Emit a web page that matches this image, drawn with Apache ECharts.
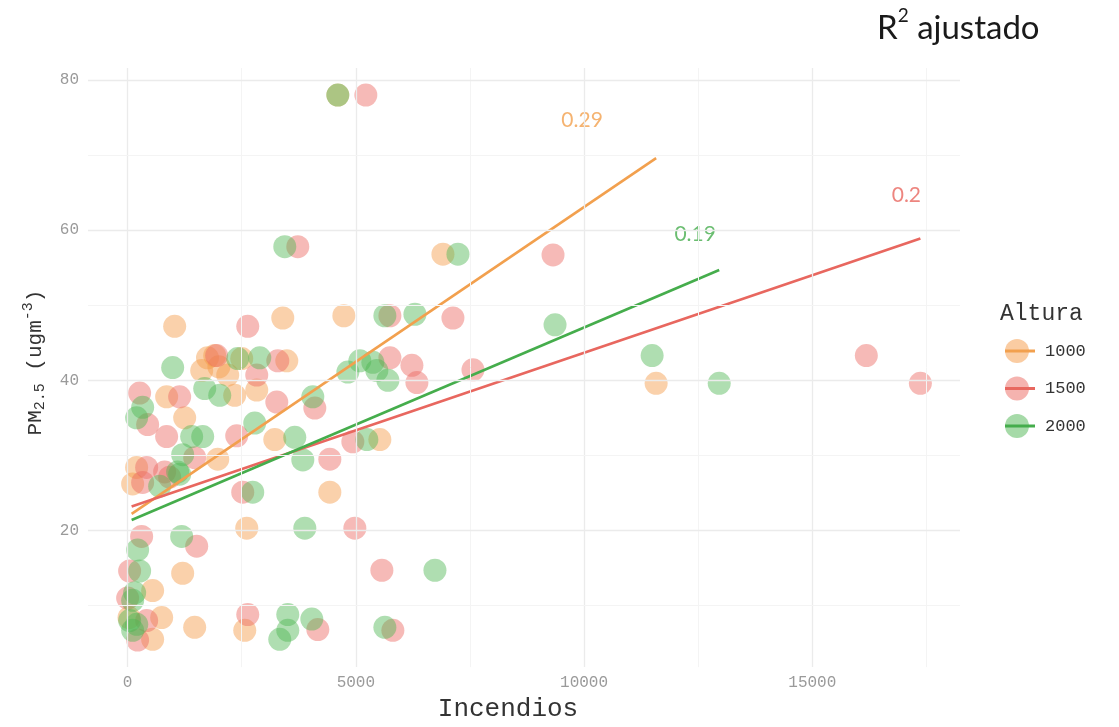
<!DOCTYPE html>
<html><head><meta charset="utf-8">
<script src="https://cdn.jsdelivr.net/npm/echarts@6/dist/echarts.min.js"></script>
<style>html,body{margin:0;padding:0;background:#fff}#c{width:1119px;height:727px}</style>
</head><body><div id="c"></div>
<script>
// ---------- data ----------
const groups = ['1000', '1500', '2000'];
const colors = ['#F59A45', '#EC6760', '#4DB552'];
const lineColors = ['#F2A04E', '#E8675F', '#45AD4C'];

// Incendios (x), PM2.5 (y)
const pts1000 = [
  [4605,78.0],[6908,56.8],[1031,47.2],[3399,48.3],[4737,48.6],
  [1750,43.0],[1908,43.3],[1623,41.3],[2500,42.9],[3487,42.6],[2000,41.8],[2193,40.7],
  [2829,38.7],[2346,38.0],[855,37.8],[1250,35.0],[3224,32.1],[5526,32.1],
  [1974,29.5],[197,28.4],[110,26.2],[4430,25.1],[2610,20.3],[1206,14.3],
  [548,12.0],[746,8.4],[548,5.5],[1469,7.1],[2566,6.7],[30,8.4],[11579,39.6]
];
const pts1500 = [
  [5219,78.0],[3728,57.8],[9320,56.7],[2632,47.2],[5746,48.6],[7127,48.3],
  [1950,43.3],[2829,40.7],[3290,42.6],[5746,43.0],[6228,42.0],[6338,39.7],[7566,41.4],
  [3268,37.1],[4101,36.3],[263,38.3],[1140,37.8],[439,34.1],[855,32.5],[2390,32.6],
  [4934,31.8],[4430,29.5],[1469,29.7],[417,28.4],[811,27.8],[329,26.4],[921,27.1],
  [2522,25.1],[4978,20.3],[5570,14.7],[307,19.2],[1513,17.9],[44,14.6],[0,11.0],
  [417,8.0],[219,5.4],[2632,8.8],[4167,6.8],[5811,6.7],[16184,43.3],[17368,39.6]
];
const pts2000 = [
  [4605,78.0],[3443,57.8],[7237,56.8],[5636,48.6],[6294,48.8],[9364,47.4],
  [987,41.7],[2412,42.9],[2895,43.0],[1689,38.9],[2018,38.0],[4057,37.8],
  [4825,41.1],[5088,42.6],[5373,42.4],[5460,41.3],[5702,40.0],
  [329,36.4],[197,35.0],[1403,32.5],[1645,32.5],[2785,34.3],[3662,32.4],[5241,32.1],[3838,29.4],
  [1206,30.1],[1140,27.5],[702,25.9],[1096,27.8],[2741,25.1],[3882,20.3],[6733,14.7],
  [219,17.4],[1184,19.2],[263,14.6],[154,11.7],[110,10.7],[44,8.0],[110,6.7],[200,7.5],
  [3509,8.8],[3333,5.5],[3509,6.7],[4035,8.2],[5636,7.1],[11491,43.3],[12961,39.6]
];
const points = [pts1000, pts1500, pts2000];

// fitted line end points
const trend1000 = [[88,22.2],[11579,69.6]];
const trend1500 = [[88,23.2],[17368,58.9]];
const trend2000 = [[88,21.4],[12961,54.7]];
const trends = [trend1000, trend1500, trend2000];

// adjusted R2 labels and their anchors (data space)
const r2Values = ['0.29', '0.2', '0.19'];
const r2Anchors = [[9956,74.6],[17061,64.7],[12434,59.5]];

const xMajor = [0, 5000, 10000, 15000];
const xMinor = [2500, 7500, 12500, 17500];
const yMajor = [20, 40, 60, 80];
const yMinor = [10, 30, 50, 70];

// ---------- chart ----------
const chart = echarts.init(document.getElementById('c'), null, {renderer: 'canvas'});
const mono = 'Liberation Mono';
const circleIcon = 'path://M0,12 A12,12 0 1,1 24,12 A12,12 0 1,1 0,12 Z';
const barIcon = 'path://M0,0 L30,0 L30,3 L0,3 Z';

const gridLines = [];
xMajor.forEach(v => gridLines.push({xAxis: v, lineStyle: {color: '#EBEBEB', width: 1.3, type: 'solid'}}));
xMinor.forEach(v => gridLines.push({xAxis: v, lineStyle: {color: '#F4F4F4', width: 1, type: 'solid'}}));
yMajor.forEach(v => gridLines.push({yAxis: v, lineStyle: {color: '#EBEBEB', width: 1.3, type: 'solid'}}));
yMinor.forEach(v => gridLines.push({yAxis: v, lineStyle: {color: '#F4F4F4', width: 1, type: 'solid'}}));

const series = [{
  type: 'line', name: '_grid', data: [], z: 0, silent: true,
  markLine: {silent: true, symbol: ['none','none'], label: {show: false}, animation: false,
    lineStyle: {type: 'solid'}, emphasis: {disabled: true}, data: gridLines}
}];
groups.forEach((g, i) => {
  series.push({
    type: 'scatter', name: g, data: points[i], symbolSize: 23, z: 2,
    itemStyle: {color: colors[i], opacity: 0.45}
  });
});
groups.forEach((g, i) => {
  series.push({
    type: 'line', name: g, data: trends[i], showSymbol: false, z: 3,
    lineStyle: {color: lineColors[i], width: 2.6}, itemStyle: {color: lineColors[i]}
  });
});
r2Values.forEach((v, i) => {
  series.push({
    type: 'scatter', name: '_r2_' + i, data: [r2Anchors[i]], symbolSize: 0, z: 4,
    label: {show: true, position: 'inside', formatter: v, color: lineColors[i],
      fontFamily: 'Lato', fontSize: 21}
  });
});

const legendBase = {
  orient: 'vertical', left: 1000, selectedMode: false,
  textStyle: {fontFamily: mono, fontSize: 17, color: '#333', padding: [0,0,0,8]}
};

chart.setOption({
  animation: false,
  backgroundColor: '#fff',
  title: [{
    text: '{r|R}{s|2}{r| ajustado}', left: 872, top: 1,
    textStyle: {rich: {
      r: {fontFamily: 'Lato', fontSize: 33, fontWeight: 'normal', color: '#1a1a1a'},
      s: {fontFamily: 'Lato', fontSize: 19, fontWeight: 'normal', color: '#1a1a1a', padding: [0,0,25,0]}
    }}
  }, {
    text: 'Altura', left: 995, top: 297,
    textStyle: {fontFamily: mono, fontSize: 23, fontWeight: 'normal', color: '#333'}
  }],
  legend: [
    Object.assign({}, legendBase, {
      top: 334, itemGap: 13.5, itemWidth: 30, itemHeight: 24,
      data: groups.map((g, i) => ({name: g, icon: circleIcon,
        itemStyle: {color: colors[i], opacity: 0.5}}))
    }),
    Object.assign({}, legendBase, {
      top: 337.5, itemGap: 20.5, itemWidth: 30, itemHeight: 3,
      textStyle: {fontFamily: mono, fontSize: 17, color: 'rgba(0,0,0,0)', padding: [0,0,0,8]},
      data: groups.map((g, i) => ({name: g, icon: barIcon,
        itemStyle: {color: lineColors[i], opacity: 1}}))
    })
  ],
  grid: {left: 88, right: 159, top: 68, bottom: 52, containLabel: false},
  xAxis: {
    type: 'value', min: -868, max: 18236, splitNumber: 4,
    name: 'Incendios', nameLocation: 'middle', nameGap: 27,
    nameTextStyle: {fontFamily: mono, fontSize: 26, color: '#333', padding: [0,32,0,0]},
    axisLine: {show: false}, axisTick: {show: false}, splitLine: {show: false},
    axisLabel: {fontFamily: mono, fontSize: 16, color: '#9a9a9a', margin: 8,
      formatter: v => (xMajor.indexOf(v) >= 0 ? String(v) : '')}
  },
  yAxis: {
    type: 'value', min: 1.8, max: 81.6, splitNumber: 4,
    name: '{t|PM}{sub|2.5}{t| (ugm}{sup|-3}{t|)}', nameLocation: 'middle', nameGap: 38, nameRotate: 90,
    nameTextStyle: {padding: [0,0,0,10], rich: {
      t: {fontFamily: mono, fontSize: 21, color: '#333'},
      sub: {fontFamily: mono, fontSize: 15, color: '#333', padding: [10,0,0,0]},
      sup: {fontFamily: mono, fontSize: 15, color: '#333', padding: [0,0,14,0]}
    }},
    axisLine: {show: false}, axisTick: {show: false}, splitLine: {show: false},
    axisLabel: {fontFamily: mono, fontSize: 16, color: '#9a9a9a', margin: 9,
      formatter: v => (yMajor.indexOf(v) >= 0 ? String(v) : '')}
  },
  series: series
});
</script>
</body></html>
